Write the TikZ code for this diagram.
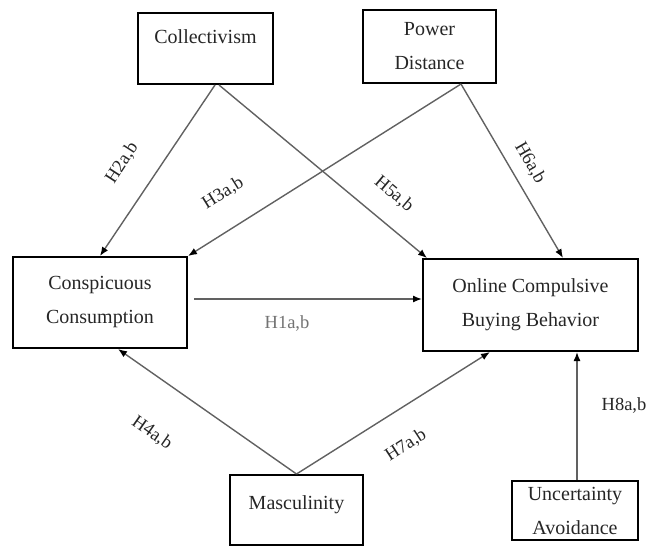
\documentclass[tikz,border=0pt]{standalone}
\usepackage{fontspec}
\setmainfont{Liberation Serif}
\usepackage{tikz}
\usetikzlibrary{arrows.meta}

\begin{document}
\begin{tikzpicture}[x=1pt, y=-1pt,
  box/.style={draw, line width=2pt, align=center, inner sep=0pt, text=black!85, font=\fontsize{20}{34}\selectfont},
  conn/.style={draw=black!62, line width=1.4pt, -{Latex[black, length=9pt, width=7pt]}},
  hyp/.style={inner sep=0pt, text=black!85, font=\fontsize{18.5}{20}\selectfont}]
  \useasboundingbox (0,0) rectangle (647,546);
  % constructs
  \node[box, anchor=north, minimum width=135pt, text height=30pt, text depth=41pt] (coll) at (205.5,12) {Collectivism};
  \node[box, minimum width=133pt, minimum height=73pt] (pd) at (429.5,46.5) {Power\\Distance};
  \node[box, minimum width=174pt, minimum height=91pt] (cc) at (100,302.5) {Conspicuous\\Consumption};
  \node[box, minimum width=215pt, minimum height=92pt] (ocbb) at (530.5,305) {Online Compulsive\\Buying Behavior};
  \node[box, anchor=north, minimum width=133pt, text height=34pt, text depth=36pt] (masc) at (296.5,474) {Masculinity};
  \node[box, minimum width=126pt, minimum height=59pt] (ua) at (575,510.5) {Uncertainty\\Avoidance};
  % paths
  \draw[conn] ([xshift=9.5pt]coll.south) -- (cc.north);
  \draw[conn] ([xshift=13.5pt]coll.south) -- ([xshift=5pt]ocbb.north west);
  \draw[conn] ([xshift=31.5pt]pd.south) -- (cc.north east);
  \draw[conn] ([xshift=31.5pt]pd.south) -- ([xshift=32.5pt]ocbb.north);
  \draw[conn] ([xshift=6pt,yshift=3.5pt]cc.east) coordinate (h1s) -- (h1s -| ocbb.west);
  \draw[conn] (masc.north) -- ([xshift=18pt]cc.south);
  \draw[conn] (masc.north) -- ([xshift=-40.5pt]ocbb.south);
  \draw[conn] ([xshift=2pt]ua.north) -- ([xshift=46.5pt]ocbb.south);
  % hypotheses
  \node[hyp, text=black!55] (h1) at (287,323) {H1a,b};
  \node[hyp, rotate=57] (h2) at (122,163) {H2a,b};
  \node[hyp, rotate=32] (h3) at (223,193) {H3a,b};
  \node[hyp, rotate=-35] (h4) at (152,433) {H4a,b};
  \node[hyp, rotate=-40] (h5) at (394,194) {H5a,b};
  \node[hyp, rotate=-60] (h6) at (530,163) {H6a,b};
  \node[hyp, rotate=33] (h7) at (406,445) {H7a,b};
  \node[hyp] (h8) at (624,405) {H8a,b};
\end{tikzpicture}
\end{document}
